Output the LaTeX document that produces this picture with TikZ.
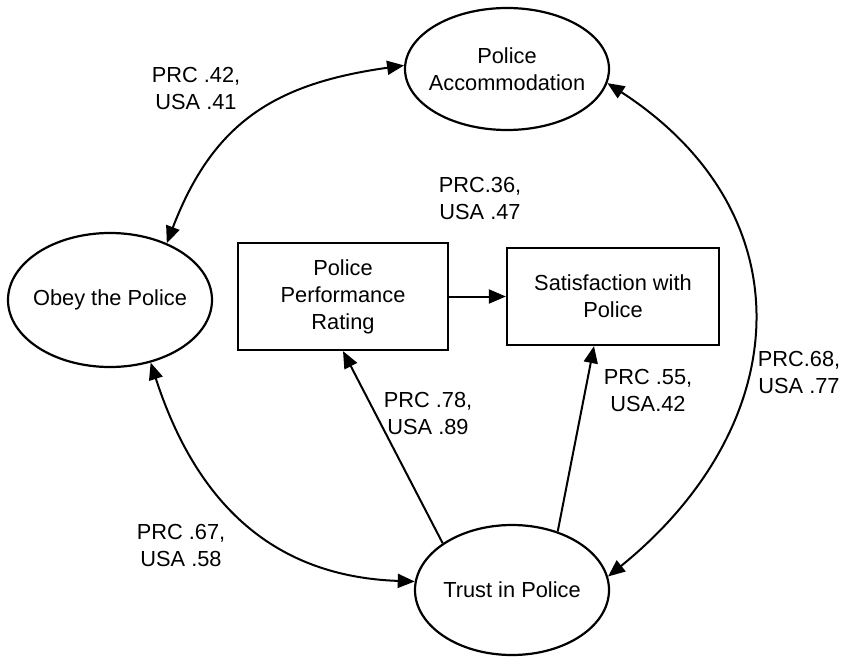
\documentclass[tikz,border=0pt]{standalone}
\usepackage{fontspec}
\setmainfont{Liberation Sans}
\usetikzlibrary{shapes.geometric,arrows.meta}
\tikzstyle{construct}=[ellipse, draw, line width=2.2pt, inner xsep=-12pt, minimum width=204pt, align=center]
\tikzstyle{measure}=[rectangle, draw, line width=2.2pt, minimum width=210pt, minimum height=107pt, align=center]
\tikzstyle{weight}=[align=center]
\tikzstyle{effect}=[line width=2pt, -{Triangle[length=17pt,width=14pt]}]
\tikzstyle{corr}=[line width=2pt, {Triangle[length=17pt,width=14pt]}-{Triangle[length=17pt,width=14pt]}]

\begin{document}
\begin{tikzpicture}[x=1pt, y=1pt, font=\fontsize{21.8}{27}\selectfont]
\useasboundingbox (0,0) rectangle (845,657);
% Constructs
    \node[construct, minimum height=122pt] (acc) at (507,588) {Police\\Accommodation};
    \node[construct, minimum height=134pt] (obey) at (110,357) {Obey the Police};
    \node[construct, minimum width=194pt, minimum height=130pt] (trust) at (512,67) {Trust in Police};
% Measures
    \node[measure] (perf) at (343,360.5) {Police\\Performance\\Rating};
    \node[measure, minimum width=212pt, minimum height=97pt] (sat) at (613,360.5) {Satisfaction with\\Police};
% Correlations
    \draw[corr] (obey.45) .. controls +(69:130) and +(188:130) .. (acc.178);
    \draw[corr] (acc.-8) .. controls +(-33:240) and +(39:240) .. (trust.8);
    \draw[corr] (obey.-57) .. controls +(-72:150) and +(178:140) .. (trust.175);
% Effects
    \draw[effect] (perf) -- (sat);
    \draw[effect] (trust.146) -- (perf.south);
    \draw[effect] (trust.52) -- ([xshift=-19pt]sat.south);
% Weights
    \node[weight] (w42) at (196,569) {PRC .42,\\USA .41};
    \node[weight] (w36) at (480,459) {PRC.36,\\USA .47};
    \node[weight] (w68) at (799,285) {PRC.68,\\USA .77};
    \node[weight] (w55) at (648,267) {PRC .55,\\USA.42};
    \node[weight] (w78) at (428,244) {PRC .78,\\USA .89};
    \node[weight] (w67) at (181,112) {PRC .67,\\USA .58};
\end{tikzpicture}
\end{document}
